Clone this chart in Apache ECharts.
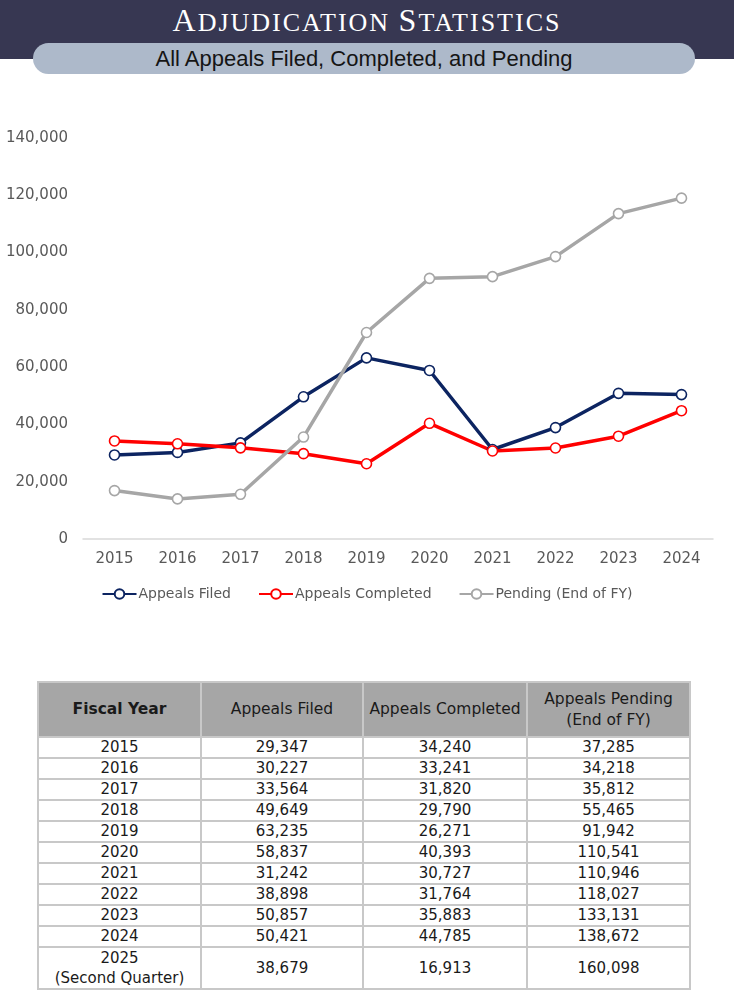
<!DOCTYPE html>
<html>
<head>
<meta charset="utf-8">
<script src="https://cdn.jsdelivr.net/npm/echarts@6/dist/echarts.min.js"></script>
<style>
  html, body { margin: 0; padding: 0; background: #fff; }
  #page { position: relative; width: 734px; height: 1000px; overflow: hidden; }
  #band { position: absolute; left: 0; top: 0; width: 734px; height: 59px; background: #373752; }
  #title { position: absolute; left: 0; top: 0; width: 734px; text-align: center; color: #fff;
           font-family: "Liberation Serif", "DejaVu Serif", serif;
           font-size: 26px; line-height: 40px; letter-spacing: 2px; white-space: nowrap; }
  #title .b { font-size: 32px; }
  #pill { position: absolute; left: 33px; top: 43px; width: 662px; height: 31px; border-radius: 16px;
          background: #adb9ca; text-align: center; color: #151515;
          font-family: "Liberation Sans Narrow", "Liberation Sans", sans-serif; font-size: 22px; line-height: 32px; }
  #chart { position: absolute; left: 0; top: 91px; width: 734px; height: 560px; }
  #tbl { position: absolute; left: 37px; top: 681px; border-collapse: collapse;
         font-family: "DejaVu Sans", sans-serif; font-size: 15px; color: #1a1a1a; }
  #tbl td, #tbl th { border: 2px solid #c8c8c8; text-align: center; padding: 0; }
  #tbl th { background: #a6a6a6; font-weight: normal; height: 53px; line-height: 21px; font-size: 15.5px; }
  #tbl th.first { font-weight: bold; }
  #tbl td { height: 19px; line-height: 19px; }
  #tbl tr.last td { height: 40px; line-height: 20px; }
</style>
</head>
<body>
<div id="page">
  <div id="chart"></div>
  <div id="band"></div>
  <div id="title"><span class="b">A</span>DJUDICATION <span class="b">S</span>TATISTICS</div>
  <div id="pill">All Appeals Filed, Completed, and Pending</div>
  <table id="tbl"></table>
</div>
<script>
// ---- Chart data ----
var years = ['2015','2016','2017','2018','2019','2020','2021','2022','2023','2024'];
var appealsFiled = [29347, 30227, 33564, 49649, 63235, 58837, 31242, 38898, 50857, 50421];
var appealsCompleted = [34240, 33241, 31820, 29790, 26271, 40393, 30727, 31764, 35883, 44785];
var pendingChart = [16900, 14000, 15600, 35600, 72100, 91000, 91600, 98600, 113600, 119000];
var seriesNames = ['Appeals Filed', 'Appeals Completed', 'Pending (End of FY)'];

// ---- Table data ----
var tableHeaders = ['Fiscal Year', 'Appeals Filed', 'Appeals Completed', 'Appeals Pending<br>(End of FY)'];
var tableYears = ['2015','2016','2017','2018','2019','2020','2021','2022','2023','2024','2025<br>(Second Quarter)'];
var tableFiled = ['29,347','30,227','33,564','49,649','63,235','58,837','31,242','38,898','50,857','50,421','38,679'];
var tableCompleted = ['34,240','33,241','31,820','29,790','26,271','40,393','30,727','31,764','35,883','44,785','16,913'];
var tablePending = ['37,285','34,218','35,812','55,465','91,942','110,541','110,946','118,027','133,131','138,672','160,098'];

// build table
(function () {
  var widths = [163, 162, 164, 163];
  var html = '<tr>';
  tableHeaders.forEach(function (h, i) {
    html += '<th style="width:' + (widths[i] - 2) + 'px"' + (i === 0 ? ' class="first"' : '') + '>' + h + '</th>';
  });
  html += '</tr>';
  tableYears.forEach(function (y, i) {
    var cls = i === tableYears.length - 1 ? ' class="last"' : '';
    html += '<tr' + cls + '><td>' + y + '</td><td>' + tableFiled[i] + '</td><td>' +
      tableCompleted[i] + '</td><td>' + tablePending[i] + '</td></tr>';
  });
  document.getElementById('tbl').innerHTML = html;
})();

var colors = ['#0c2461', '#ff0000', '#a6a6a6'];
var chart = echarts.init(document.getElementById('chart'), null, { renderer: 'canvas' });
function mk(name, data, color) {
  return {
    name: name, type: 'line', data: data,
    symbol: 'circle', symbolSize: 10,
    lineStyle: { color: color, width: 3.5 },
    itemStyle: { color: '#ffffff', borderColor: color, borderWidth: 1.6 },
    emphasis: { disabled: true },
    animation: false
  };
}
chart.setOption({
  animation: false,
  color: colors,
  grid: { left: 83, right: 21, top: 47, bottom: 112, containLabel: false },
  xAxis: {
    type: 'category', data: years, boundaryGap: true,
    axisLine: { lineStyle: { color: '#d9d9d9', width: 1.5 } },
    axisTick: { show: false },
    axisLabel: { color: '#595959', fontSize: 15, fontFamily: 'DejaVu Sans', margin: 13 }
  },
  yAxis: {
    type: 'value', min: 0, max: 140000, interval: 20000,
    axisLine: { show: false }, axisTick: { show: false },
    splitLine: { show: false },
    axisLabel: {
      color: '#595959', fontSize: 15, fontFamily: 'DejaVu Sans', margin: 15,
      formatter: function (v) { return v.toLocaleString('en-US'); }
    }
  },
  legend: {
    data: seriesNames, top: 491, left: 'center',
    itemWidth: 34, itemHeight: 12, itemGap: 27,
    textStyle: { color: '#595959', fontSize: 14, fontFamily: 'DejaVu Sans', padding: [0, 0, 0, -3] }
  },
  series: [
    mk(seriesNames[0], appealsFiled, colors[0]),
    mk(seriesNames[1], appealsCompleted, colors[1]),
    mk(seriesNames[2], pendingChart, colors[2])
  ]
});
</script>
</body>
</html>
